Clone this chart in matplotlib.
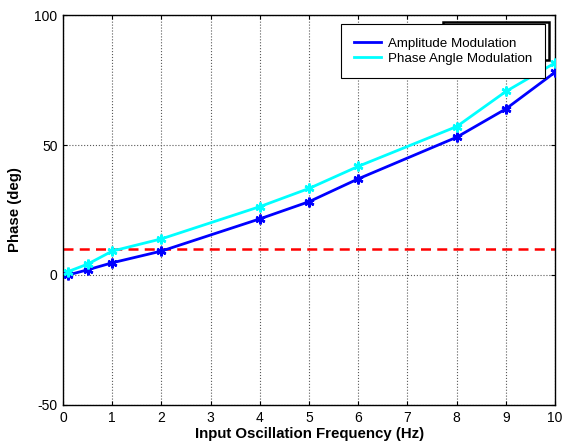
import numpy as np
import matplotlib.pyplot as plt
from matplotlib.patches import Rectangle

# values
freq = [0.1, 0.5, 1, 2, 4, 5, 6, 8, 9, 10]
amp_phase = [0.0, 2.0, 4.7, 9.2, 21.6, 28.2, 37.0, 53.0, 63.9, 78.0]
angle_phase = [1.3, 4.2, 9.2, 13.9, 26.3, 33.3, 41.8, 57.1, 70.6, 81.6]
threshold = 10
x_ticks = list(range(0, 11))
y_ticks = [-50, 0, 50, 100]
y_labels = ['-50', '0', '50', '100']

plt.rcParams['font.family'] = ['Liberation Sans', 'DejaVu Sans']

fig = plt.figure(figsize=(5.63, 4.48), dpi=100)
ax = fig.add_axes([0.112, 0.096, 0.874, 0.8705])

star = (6, 2, 0)
ax.plot(freq, amp_phase, color='#0000ff', linewidth=2, marker=star, markersize=7,
        markeredgewidth=1.8, zorder=3)
ax.plot(freq, angle_phase, color='#00ffff', linewidth=2, marker=star, markersize=7,
        markeredgewidth=1.8, zorder=3)
ax.axhline(threshold, color='#ff0000', linestyle=(0, (4, 2.5)), linewidth=1.8, zorder=2)

ax.set_xlim(0, 10)
ax.set_ylim(-50, 100)
ax.set_xticks(x_ticks)
ax.set_yticks(y_ticks)
ax.set_yticklabels(y_labels)
ax.tick_params(direction='in', top=True, right=True, labelsize=10, length=3)
ax.tick_params(axis='x', pad=4)
ax.tick_params(axis='y', pad=4)
ax.grid(True, linestyle=':', color='0.35', linewidth=0.8)
for s in ax.spines.values():
    s.set_linewidth(1.0)

ax.set_xlabel('Input Oscillation Frequency (Hz)', fontsize=10.8, fontweight='bold', labelpad=2)
ax.set_ylabel('Phase (deg)', fontsize=10.8, fontweight='bold', labelpad=9)

# stray frame behind the legend, as in the original figure
ax.add_patch(Rectangle((0.772, 0.885), 0.216, 0.098, transform=ax.transAxes, fill=False,
                       edgecolor='black', linewidth=1.8, zorder=4, clip_on=False))

leg_handles = [plt.Line2D([], [], color='#0000ff', linewidth=2),
               plt.Line2D([], [], color='#00ffff', linewidth=2)]
leg = ax.legend(leg_handles, ['Amplitude Modulation', 'Phase Angle Modulation'],
                loc='upper right', bbox_to_anchor=(0.98, 0.977), fontsize=9.6, fancybox=False,
                framealpha=1, edgecolor='black', handlelength=2.0, handletextpad=0.5,
                borderpad=1.0, labelspacing=0.2, borderaxespad=0)
leg.get_frame().set_linewidth(0.8)
leg.set_zorder(5)

fig.savefig('out.png', dpi=100)
